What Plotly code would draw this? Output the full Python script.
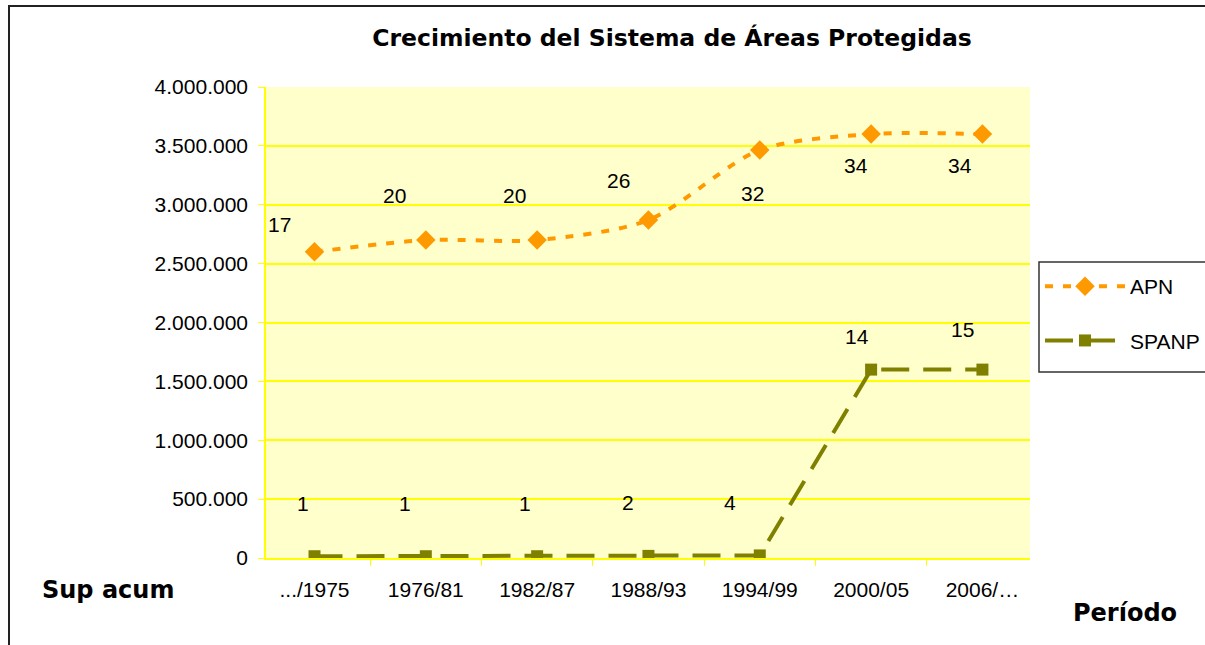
import plotly.graph_objects as go

categories = [".../1975", "1976/81", "1982/87", "1988/93", "1994/99", "2000/05", "2006/…"]
apn_sup = [2600000, 2700000, 2700000, 2870000, 3465000, 3600000, 3600000]
spanp_sup = [15000, 15000, 15000, 18000, 22000, 1600000, 1600000]
apn_count = [17, 20, 20, 26, 32, 34, 34]
spanp_count = [1, 1, 1, 2, 4, 14, 15]

# pixel offsets of the data labels relative to their points (label placement style)
apn_label_shift = [(-35, 27), (-31, 45), (-23, 45), (-30, 40), (-7, -43), (-15, -31), (-22, -31)]
spanp_label_shift = [(-12, 53), (-21, 53), (-12, 53), (-20, 53), (-30, 53), (-14, 33), (-20, 40)]

W, H = 1205, 645
L, R, T, B = 266, 1205 - 1030, 87, 645 - 558
PW, PH = W - L - R, H - T - B


def px(x):
    return (x - L) / PW


def py(y):
    return (H - B - y) / PH


ORANGE = "#FF9900"
OLIVE = "#808000"
YELLOW = "#FFFF00"
FONT = "Liberation Sans, Arial, sans-serif"
BOLD = "DejaVu Sans, Verdana, sans-serif"

fig = go.Figure()
fig.add_trace(go.Scatter(
    x=categories, y=apn_sup, name="APN", mode="lines+markers",
    line=dict(color=ORANGE, width=4, dash="8px,10px", shape="spline", smoothing=0.8),
    marker=dict(symbol="diamond", size=15, color=ORANGE),
    legendgroup="a",
))
fig.add_trace(go.Scatter(
    x=categories, y=spanp_sup, name="SPANP", mode="lines+markers",
    line=dict(color=OLIVE, width=4, dash="28px,14px"),
    marker=dict(symbol="square", size=12, color=OLIVE),
    legendgroup="b",
))

annotations = []
for cat, val, cnt, (dx, dy) in zip(categories, apn_sup, apn_count, apn_label_shift):
    annotations.append(dict(x=cat, y=val, text=str(cnt), showarrow=False,
                            xshift=dx, yshift=dy, font=dict(family=FONT, size=21, color="black")))
for cat, val, cnt, (dx, dy) in zip(categories, spanp_sup, spanp_count, spanp_label_shift):
    annotations.append(dict(x=cat, y=val, text=str(cnt), showarrow=False,
                            xshift=dx, yshift=dy, font=dict(family=FONT, size=21, color="black")))

annotations.append(dict(xref="paper", yref="paper", x=px(108), y=py(590), text="<b>Sup acum</b>",
                        showarrow=False, xanchor="center", yanchor="middle",
                        font=dict(family=BOLD, size=24, color="black")))
annotations.append(dict(xref="paper", yref="paper", x=px(1125), y=py(613), text="<b>Período</b>",
                        showarrow=False, xanchor="center", yanchor="middle",
                        font=dict(family=BOLD, size=24, color="black")))

fig.update_layout(
    width=W, height=H,
    margin=dict(l=L, r=R, t=T, b=B, autoexpand=False),
    paper_bgcolor="white",
    plot_bgcolor="#FFFFCC",
    separators=",.",
    title=dict(text="<b>Crecimiento del Sistema de Áreas Protegidas</b>",
               x=px(672), xref="paper", xanchor="center",
               y=1 - 38 / H, yref="container", yanchor="middle",
               font=dict(family=BOLD, size=23.5, color="black")),
    font=dict(family=FONT, size=21, color="black"),
    xaxis=dict(type="category", showline=True, linecolor=YELLOW, linewidth=1.5,
               ticks="outside", tickson="boundaries", ticklen=6, tickcolor=YELLOW,
               showgrid=False, ticklabelstandoff=12,
               tickfont=dict(family=FONT, size=21, color="black")),
    yaxis=dict(range=[0, 4000000], dtick=500000, tickformat=",.0f",
               showline=True, linecolor=YELLOW, linewidth=1.5,
               ticks="outside", ticklen=6, tickcolor=YELLOW,
               showgrid=True, gridcolor=YELLOW, gridwidth=1.5, zeroline=False,
               ticklabelstandoff=6,
               tickfont=dict(family=FONT, size=21, color="black")),
    legend=dict(x=px(1040), y=py(266), xanchor="left", yanchor="top",
                bgcolor="rgba(0,0,0,0)", borderwidth=0,
                font=dict(family=FONT, size=21, color="black"),
                tracegroupgap=24, itemwidth=80, traceorder="grouped"),
    annotations=annotations,
    shapes=[
        dict(type="rect", xref="paper", yref="paper",
             x0=px(9), x1=px(1300), y0=py(700), y1=py(6),
             line=dict(color="#222222", width=2), fillcolor="rgba(0,0,0,0)", layer="below"),
        dict(type="rect", xref="paper", yref="paper",
             x0=px(1039), x1=px(1300), y0=py(372), y1=py(262),
             line=dict(color="#333333", width=1.5), fillcolor="white", layer="below"),
    ],
    showlegend=True,
)

fig.write_html("out.html", config={"displayModeBar": False},
               post_script="document.body.style.margin='0';document.body.style.overflow='hidden';")
